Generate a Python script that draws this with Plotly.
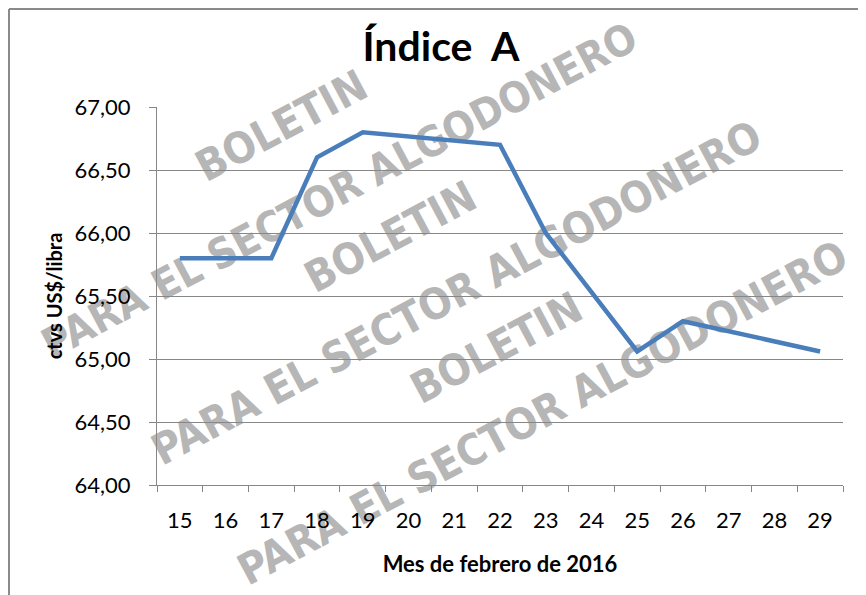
import plotly.graph_objects as go

# ---- data ----
dias = ["15", "16", "17", "18", "19", "20", "21", "22", "23", "24", "25", "26", "27", "28", "29"]
indice_a = [65.80, 65.80, 65.80, 66.60, 66.80, None, None, 66.70, 66.00, 65.53, 65.06, 65.30, None, None, 65.06]
y_ticks = [64.0, 64.5, 65.0, 65.5, 66.0, 66.5, 67.0]

titulo = "Índice\u00a0 A"
titulo_x = "Mes de febrero de 2016"
titulo_y = "ctvs US$/libra"
marca_1 = "BOLETIN"
marca_2 = "PARA EL SECTOR ALGODONERO"

OFF = 8  # page body margin
W, H = 866 - OFF, 595 - OFF
L, R, T, B = 157 - OFF, 23, 107 - OFF, 110
pw, ph = W - L - R, H - T - B


def px(x):  # page x -> paper
    return (x - OFF - L) / pw


def py(y):  # page y -> paper
    return (H - B - (y - OFF)) / ph


FONT = "Lato, Open Sans, sans-serif"
GRID = "#878787"

fig = go.Figure()
fig.add_trace(go.Scatter(
    x=dias, y=indice_a, mode="lines", connectgaps=True,
    line=dict(color="#4a7ebb", width=4.5), hoverinfo="skip", showlegend=False,
))

shapes = []
# outer chart border (top and left visible)
shapes.append(dict(type="line", xref="paper", yref="paper", x0=px(9), x1=px(880), y0=py(9), y1=py(9),
                   line=dict(color="#8a8a8a", width=2), layer="above"))
shapes.append(dict(type="line", xref="paper", yref="paper", x0=px(9), x1=px(9), y0=py(9), y1=py(610),
                   line=dict(color="#8a8a8a", width=2), layer="above"))

# watermarks
marks = [
    (marca_1, 280, 123, 43), (marca_2, 338, 188, 42),
    (marca_1, 389, 234, 43), (marca_2, 455, 290, 43),
    (marca_1, 495, 345, 43), (marca_2, 541, 410, 43),
]
for txt, cx, cy, fs in marks:
    shapes.append(dict(
        type="rect", xref="paper", yref="paper",
        x0=px(cx - 1), x1=px(cx + 1), y0=py(cy + 1), y1=py(cy - 1),
        line=dict(width=0), fillcolor="rgba(0,0,0,0)", layer="below",
        label=dict(text=txt, textangle=-28, textposition="middle center",
                   font=dict(family="Liberation Sans Narrow, Arial Narrow, DejaVu Sans Condensed, sans-serif",
                             size=fs, color="#b6b6b6", weight="bold")),
    ))

fig.update_layout(
    width=W, height=H,
    margin=dict(l=L, r=R, t=T, b=B, pad=0),
    paper_bgcolor="white", plot_bgcolor="rgba(0,0,0,0)",
    separators=",.",
    font=dict(family=FONT, color="#000000"),
    title=dict(text="<b>" + titulo + "</b>", x=(441 - OFF) / W, xref="container", xanchor="center",
               y=1 - (47 - OFF) / H, yref="container", yanchor="middle",
               font=dict(family=FONT, size=41, color="#000000")),
    shapes=shapes,
)

fig.update_xaxes(
    type="category", range=[-0.5, len(dias) - 0.5], tickson="boundaries", ticks="outside", ticklen=6,
    tickcolor=GRID, tickwidth=1,
    showline=True, linecolor=GRID, linewidth=1, showgrid=False,
    tickfont=dict(family=FONT, size=22, color="#000000"), ticklabelstandoff=16,
    title=dict(text="<b>" + titulo_x + "</b>", font=dict(family=FONT, size=22, color="#000000"), standoff=24),
)
fig.update_yaxes(
    range=[64, 67], tickvals=y_ticks, tickformat=".2f", ticks="outside", ticklen=7, tickcolor=GRID,
    showline=True, linecolor=GRID, linewidth=1, showgrid=True, gridcolor=GRID, gridwidth=1,
    zeroline=False,
    tickfont=dict(family=FONT, size=22, color="#000000"), ticklabelstandoff=14,
    title=dict(text="<b>" + titulo_y + "</b>", font=dict(family=FONT, size=20, color="#000000"), standoff=6),
)

fig.write_html("out.html")
